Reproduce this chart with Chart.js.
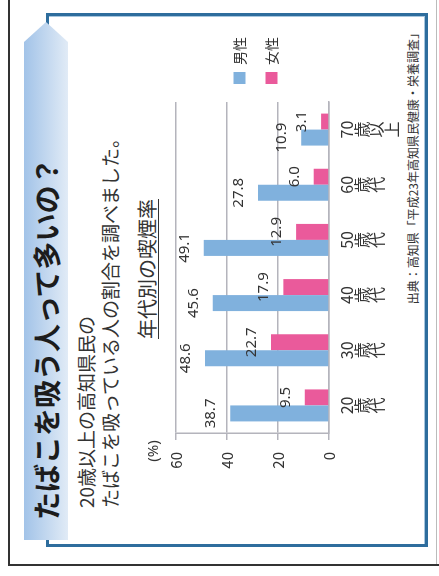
<!DOCTYPE html>
<html lang="ja">
<head>
<meta charset="utf-8">
<script src="https://cdn.jsdelivr.net/npm/chart.js@4.4.1/dist/chart.umd.min.js"></script>
<style>
html, body { margin: 0; padding: 0; background: #fff; }
body { width: 439px; height: 576px; overflow: hidden; position: relative; font-family: "Noto Sans CJK JP", "Noto Sans", sans-serif; color: #333; }
/* the slide is laid out upright, then turned a quarter to the left */
#page { position: absolute; left: 0; top: 0; width: 576px; height: 439px; transform-origin: 0 0; transform: translate(0, 576px) rotate(-90deg); background: #fff; overflow: hidden; }
.outer { position: absolute; left: 10px; top: 8px; width: 600px; height: 460px; border-top: 2px solid #333; border-left: 2px solid #333; }
.outer-b { position: absolute; left: 12px; top: 436px; width: 570px; height: 1px; background: #bbb; }
.frame { position: absolute; left: 29px; top: 46px; width: 528px; height: 376px; border: 3px solid #2e6d9d; box-shadow: inset -1px -1px 0 #a7c6de; }
.banner { position: absolute; left: 36px; top: 24px; width: 518px; height: 44px; background: linear-gradient(to bottom, #a2c3e8, #e1ebf6); clip-path: polygon(0 0, 498px 0, 518px 22px, 498px 44px, 0 44px); }
.banner span { position: absolute; left: 20px; top: 0; line-height: 44px; font-size: 28px; font-weight: bold; color: #1c1c1c; white-space: nowrap; }
.sub { position: absolute; left: 68px; top: 74px; font-size: 19px; line-height: 23.5px; color: #333; white-space: nowrap; }
.ctitle { position: absolute; left: 200px; top: 135px; width: 214px; text-align: center; font-size: 20px; line-height: 24px; text-decoration: underline; text-underline-offset: 3px; text-decoration-thickness: 1px; color: #333; }
.src { position: absolute; left: 200px; top: 405px; width: 349px; text-align: right; font-size: 12px; line-height: 16px; color: #333; white-space: nowrap; }
#chart { position: absolute; left: 60px; top: 140px; }
</style>
</head>
<body>
<div id="page">
  <div class="outer"></div>
  <div class="outer-b"></div>
  <div class="frame"></div>
  <div class="banner"><span>たばこを吸う人って多いの？</span></div>
  <div class="sub">20歳以上の高知県民の<br>たばこを吸っている人の割合を調べました。</div>
  <div class="ctitle">年代別の喫煙率</div>
  <div class="src">出典：高知県「平成23年高知県民健康・栄養調査」</div>
  <canvas id="chart" width="489" height="260"></canvas>
</div>
<script>
const categories = ["20歳代", "30歳代", "40歳代", "50歳代", "60歳代", "70歳以上"];
const maleValues = [38.7, 48.6, 45.6, 49.1, 27.8, 10.9];
const femaleValues = [9.5, 22.7, 17.9, 12.9, 6.0, 3.1];
const yTicks = [0, 20, 40, 60];

Chart.defaults.font.family = '"Noto Sans CJK JP", "Noto Sans", sans-serif';
Chart.defaults.color = "#333";

// numbers above each bar, plus the (%) unit over the value axis
const barLabels = {
    id: "barLabels",
    afterDatasetsDraw(chart) {
        const ctx = chart.ctx;
        ctx.save();
        ctx.font = '15px "Noto Sans", sans-serif';
        ctx.fillStyle = "#333";
        ctx.textAlign = "center";
        ctx.textBaseline = "alphabetic";
        chart.data.datasets.forEach((ds, i) => {
            chart.getDatasetMeta(i).data.forEach((bar, j) => {
                ctx.fillText(ds.data[j].toFixed(1), bar.x, bar.y - 15);
            });
        });
        const area = chart.chartArea;
        ctx.textBaseline = "middle";
        ctx.fillText("(%)", area.left - 18, area.top - 22);
        ctx.restore();
    },
};

new Chart(document.getElementById("chart"), {
    type: "bar",
    data: {
        labels: categories,
        datasets: [
            { label: "男性", data: maleValues, backgroundColor: "#80b1dd" },
            { label: "女性", data: femaleValues, backgroundColor: "#ea5a9b" },
        ],
    },
    options: {
        responsive: false,
        animation: false,
        devicePixelRatio: 1,
        layout: { padding: { top: 36, left: 0, right: 0, bottom: 0 } },
        datasets: { bar: { categoryPercentage: 0.58, barPercentage: 1.0 } },
        plugins: {
            legend: {
                position: "right",
                align: "start",
                // blank title just pushes the two items down beside the plot
                title: { display: true, text: " ", font: { size: 11, lineHeight: 3.5 }, padding: 0 },
                labels: { boxWidth: 12, boxHeight: 12, padding: 18, font: { size: 14 }, color: "#333" },
            },
            tooltip: { enabled: false },
        },
        scales: {
            x: {
                grid: { display: false },
                border: { color: "#b4b4bc", width: 1.5 },
                ticks: {
                    padding: 2,
                    maxRotation: 0,
                    autoSkip: false,
                    font: { size: 16, lineHeight: 0.95 },
                    color: "#333",
                    callback: function (value) {
                        return categories[value].match(/\d+|./g);
                    },
                },
                afterFit(scale) { scale.height = 71; },
            },
            y: {
                min: 0,
                max: 60,
                afterBuildTicks(scale) { scale.ticks = yTicks.map((v) => ({ value: v })); },
                grid: { color: "#b4b4bc", lineWidth: 1.5, tickLength: 7 },
                border: { color: "#b4b4bc", width: 1.5 },
                ticks: { padding: 12, font: { size: 15 }, color: "#333" },
                afterFit(scale) { scale.width = 83; },
            },
        },
    },
    plugins: [barLabels],
});
</script>
</body>
</html>
